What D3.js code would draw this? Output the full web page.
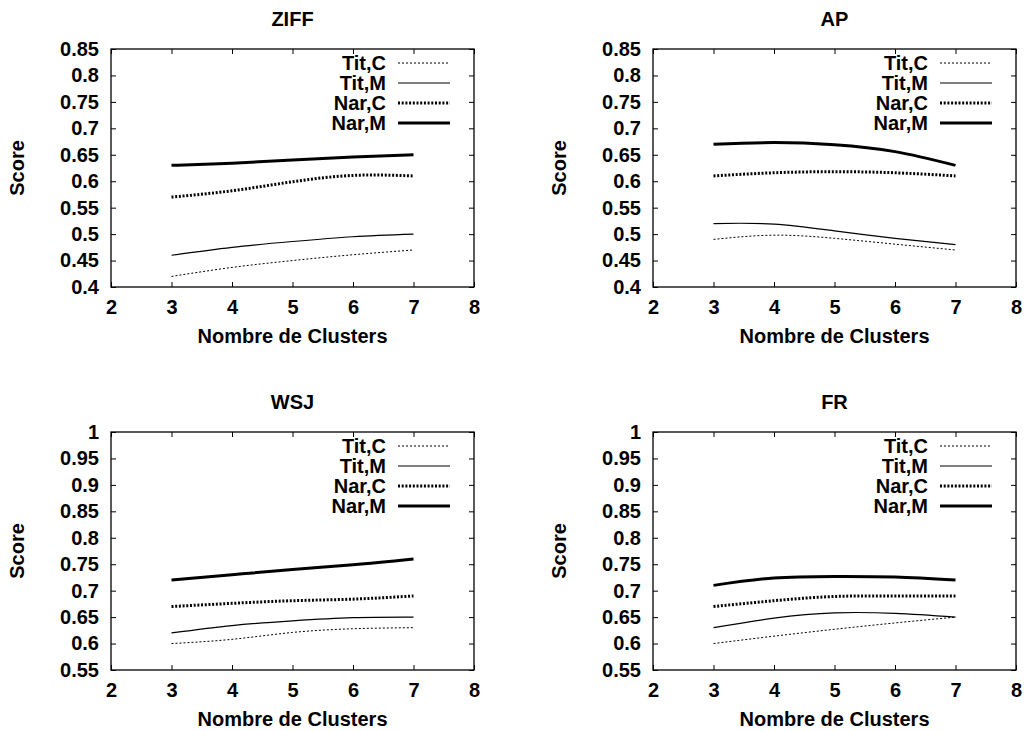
<!DOCTYPE html>
<html>
  <head>
    <title>Score vs Nombre de Clusters</title>
    <style>
      body,
      html {
        margin: 0;
        padding: 0;
        background: #fff;
      }
      svg text {
        font-family: 'Liberation Sans', Arial, sans-serif;
        font-weight: bold;
        font-size: 20px;
        fill: #000;
      }
    </style>
  </head>
  <body>
    <svg id="svg" width="1026" height="731"></svg>
    <script src="https://cdn.jsdelivr.net/npm/d3@7"></script>
    <script>
      // x values (nombre de clusters) and series names
      const clusters = [3, 4, 5, 6, 7];
      const seriesNames = ['Tit,C', 'Tit,M', 'Nar,C', 'Nar,M'];
      const panelTitles = ['ZIFF', 'AP', 'WSJ', 'FR'];

      const xTicks = [2, 3, 4, 5, 6, 7, 8];
      const yTicksTop = [0.4, 0.45, 0.5, 0.55, 0.6, 0.65, 0.7, 0.75, 0.8, 0.85];
      const yTicksBottom = [0.55, 0.6, 0.65, 0.7, 0.75, 0.8, 0.85, 0.9, 0.95, 1];

      // scores, one row per series (Tit,C / Tit,M / Nar,C / Nar,M)
      const ziffScores = [
        [0.42, 0.437, 0.45, 0.461, 0.47],
        [0.46, 0.475, 0.486, 0.495, 0.5],
        [0.57, 0.582, 0.599, 0.611, 0.61],
        [0.63, 0.634, 0.64, 0.646, 0.65]
      ];
      const apScores = [
        [0.49, 0.498, 0.492, 0.481, 0.47],
        [0.52, 0.519, 0.506, 0.492, 0.48],
        [0.61, 0.616, 0.618, 0.616, 0.61],
        [0.67, 0.673, 0.669, 0.656, 0.63]
      ];
      const wsjScores = [
        [0.6, 0.608, 0.621, 0.628, 0.63],
        [0.62, 0.634, 0.643, 0.649, 0.65],
        [0.67, 0.676, 0.681, 0.684, 0.69],
        [0.72, 0.73, 0.74, 0.749, 0.76]
      ];
      const frScores = [
        [0.6, 0.614, 0.627, 0.639, 0.65],
        [0.63, 0.648, 0.658, 0.657, 0.65],
        [0.67, 0.681, 0.689, 0.69, 0.69],
        [0.71, 0.724, 0.727, 0.726, 0.72]
      ];

      const styles = [
        { width: 1, dash: '2,2' },
        { width: 1.2, dash: null },
        { width: 3, dash: '2,1.7' },
        { width: 3, dash: null }
      ];

      const panels = [
        { title: panelTitles[0], scores: ziffScores, yTicks: yTicksTop, left: 111, top: 49 },
        { title: panelTitles[1], scores: apScores, yTicks: yTicksTop, left: 653, top: 49 },
        { title: panelTitles[2], scores: wsjScores, yTicks: yTicksBottom, left: 111, top: 432 },
        { title: panelTitles[3], scores: frScores, yTicks: yTicksBottom, left: 653, top: 432 }
      ];

      const width = 363;
      const height = 238;
      const svg = d3.select('#svg');

      panels.forEach((p) => {
        const g = svg.append('g').attr('transform', `translate(${p.left},${p.top})`);

        const xScale = d3.scaleLinear().domain([2, 8]).range([0, width]);
        const yScale = d3
          .scaleLinear()
          .domain(d3.extent(p.yTicks))
          .range([height, 0]);

        const fmt = d3.format('~g');

        // axes with inward ticks, mirrored on top / right
        const xAxis = g
          .append('g')
          .attr('transform', `translate(0,${height})`)
          .call(d3.axisBottom(xScale).tickValues(xTicks).tickSize(-5).tickPadding(13).tickFormat(fmt));
        const xAxisTop = g
          .append('g')
          .call(d3.axisTop(xScale).tickValues(xTicks).tickSize(-5).tickFormat(''));
        const yAxis = g
          .append('g')
          .call(d3.axisLeft(yScale).tickValues(p.yTicks).tickSize(-5).tickPadding(12).tickFormat(fmt));
        const yAxisRight = g
          .append('g')
          .attr('transform', `translate(${width},0)`)
          .call(d3.axisRight(yScale).tickValues(p.yTicks).tickSize(-5).tickFormat(''));

        [xAxis, xAxisTop, yAxis, yAxisRight].forEach((a) => {
          a.select('.domain').remove();
          a.selectAll('line').attr('stroke', '#000').attr('stroke-width', 1);
          a.selectAll('text').attr('font-size', null).attr('font-family', null);
        });

        g.append('rect')
          .attr('width', width)
          .attr('height', height)
          .attr('fill', 'none')
          .attr('stroke', '#000')
          .attr('stroke-width', 1.3);

        const linegen = d3
          .line()
          .x((d, i) => xScale(clusters[i]))
          .y((d) => yScale(d))
          .curve(d3.curveNatural);

        p.scores.forEach((s, i) => {
          g.append('path')
            .attr('d', linegen(s))
            .attr('fill', 'none')
            .attr('stroke', '#000')
            .attr('stroke-width', styles[i].width)
            .attr('stroke-dasharray', styles[i].dash);
        });

        // legend
        const legend = g.append('g');
        seriesNames.forEach((name, i) => {
          const ly = 14 + i * 20;
          legend
            .append('text')
            .attr('x', width - 88)
            .attr('y', ly)
            .attr('dy', '0.35em')
            .attr('text-anchor', 'end')
            .text(name);
          legend
            .append('line')
            .attr('x1', width - 76)
            .attr('x2', width - 24)
            .attr('y1', ly)
            .attr('y2', ly)
            .attr('stroke', '#000')
            .attr('stroke-width', styles[i].width)
            .attr('stroke-dasharray', styles[i].dash);
        });

        g.append('text')
          .attr('x', width / 2)
          .attr('y', -23)
          .attr('text-anchor', 'middle')
          .text(p.title);

        g.append('text')
          .attr('x', width / 2)
          .attr('y', height + 56)
          .attr('text-anchor', 'middle')
          .text('Nombre de Clusters');

        g.append('text')
          .attr('transform', `translate(-94,${height / 2}) rotate(-90)`)
          .attr('dy', '0.35em')
          .attr('text-anchor', 'middle')
          .text('Score');
      });
    </script>
  </body>
</html>
